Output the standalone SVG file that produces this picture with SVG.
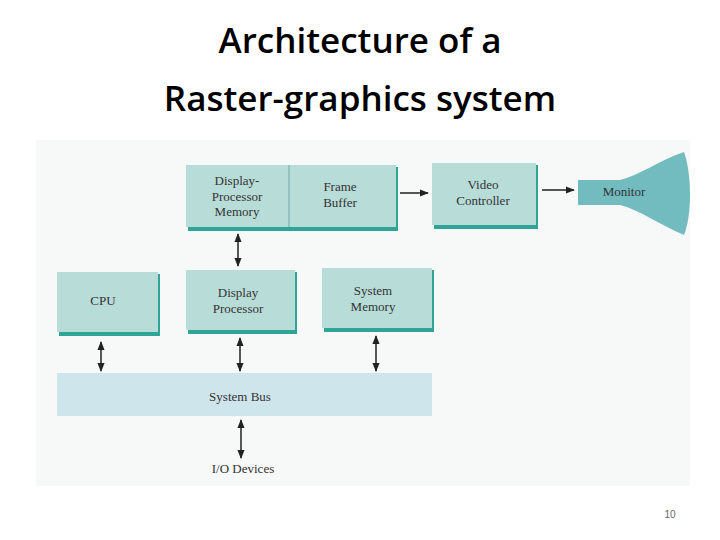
<svg xmlns="http://www.w3.org/2000/svg" width="720" height="540" viewBox="0 0 720 540">
<style>
.t{font-family:"Liberation Serif",serif;font-size:13px;fill:#333;text-anchor:middle}
.h{font-family:"Open Sans","Liberation Sans",sans-serif;font-size:35px;font-weight:600;fill:#000;text-anchor:middle}
.b{fill:#b8dcd8}
.s{fill:#2ea597}
.c{stroke:#222;stroke-width:1.5;fill:none;marker-start:url(#a);marker-end:url(#a)}
.e{stroke:#222;stroke-width:1.5;fill:none;marker-end:url(#a)}
</style>
<defs><marker id="a" viewBox="0 0 10 10" refX="9" refY="5" markerWidth="6" markerHeight="6" orient="auto-start-reverse"><path d="M0,1L10,5L0,9z" fill="#222"/></marker></defs>
<rect width="720" height="540" fill="#fff"/>
<text class="h" x="360" y="53">Architecture of a</text>
<text class="h" x="360" y="111">Raster-graphics system</text>
<rect x="36" y="140" width="654" height="346" fill="#f7f8f8"/>
<g id="dpm"><rect class="s" x="188" y="167" width="210" height="64"/><rect class="b" x="186" y="165" width="210" height="62"/><line x1="289" y1="165" x2="289" y2="227" stroke="#6aa8a2"/>
<text class="t" x="237" y="185">Display-</text><text class="t" x="237" y="201">Processor</text><text class="t" x="237" y="216">Memory</text>
<text class="t" x="340" y="191">Frame</text><text class="t" x="340" y="207">Buffer</text></g>
<g id="vc"><rect class="s" x="434" y="165" width="104" height="64"/><rect class="b" x="432" y="163" width="104" height="62"/>
<text class="t" x="483" y="189">Video</text><text class="t" x="483" y="205">Controller</text></g>
<g id="mon"><path d="M578,180H620C640,175 660,160 684,152C692,175 692,215 684,235C660,225 640,210 620,205H578z" fill="#72bcc0"/>
<text class="t" x="624" y="196">Monitor</text></g>
<g id="cpu"><rect class="s" x="59" y="274" width="101" height="62"/><rect class="b" x="57" y="272" width="101" height="60"/><text class="t" x="103" y="305">CPU</text></g>
<g id="dp"><rect class="s" x="188" y="272" width="109" height="62"/><rect class="b" x="186" y="270" width="109" height="60"/><text class="t" x="238" y="297">Display</text><text class="t" x="238" y="313">Processor</text></g>
<g id="sm"><rect class="s" x="324" y="270" width="110" height="62"/><rect class="b" x="322" y="268" width="110" height="60"/><text class="t" x="373" y="295">System</text><text class="t" x="373" y="311">Memory</text></g>
<g id="bus"><rect x="57" y="373" width="375" height="43" fill="#cfe5ec"/><text class="t" x="240" y="401">System Bus</text></g>
<g id="io"><text class="t" x="243" y="473">I/O Devices</text></g>
<g id="connectors">
<line class="e" x1="400" y1="193" x2="428" y2="193"/>
<line class="e" x1="542" y1="190" x2="574" y2="190"/>
<line class="c" x1="238" y1="234" x2="238" y2="266"/>
<line class="c" x1="101" y1="342" x2="101" y2="371"/>
<line class="c" x1="240" y1="338" x2="240" y2="371"/>
<line class="c" x1="376" y1="336" x2="376" y2="371"/>
<line class="c" x1="241" y1="420" x2="241" y2="458"/>
</g>
<text x="670" y="518" font-family="Liberation Sans,sans-serif" font-size="10" fill="#666" text-anchor="middle">10</text>
</svg>
